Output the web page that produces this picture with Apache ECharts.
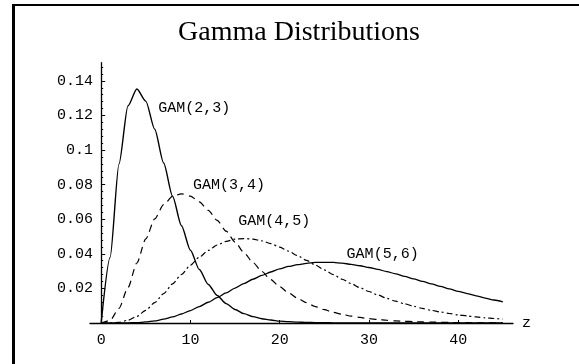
<!DOCTYPE html>
<html>
<head>
<meta charset="utf-8">
<script src="https://cdn.jsdelivr.net/npm/echarts@6/dist/echarts.min.js"></script>
<style>
  html, body { margin: 0; padding: 0; background: #fff; }
  #chart { width: 579px; height: 364px; }
</style>
</head>
<body>
<div id="chart"></div>
<script>
// z values shared by every density curve
const zValues = [0,1,2,3,4,5,6,7,8,9,10,11,12,13,14,15,16,17,18,19,20,21,22,23,24,25,26,27,28,29,30,31,32,33,34,35,36,37,38,39,40,41,42,43,44,45];

// density values for each distribution
const gam23 = [0,0.0379,0.0920,0.1255,0.1353,0.1283,0.1120,0.0925,0.0733,0.0562,0.0421,0.0309,0.0223,0.0159,0.0112,0.0078,0.0054,0.0037,0.0025,0.0017,0.0011,0.0008,0.0005,0.0003,0.0002,0.0002,0.0001,0.0001,0,0,0,0,0,0,0,0,0,0,0,0,0,0,0,0,0,0];
const gam34 = [0,0.0015,0.0085,0.0204,0.0347,0.0486,0.0602,0.0684,0.0732,0.0747,0.0734,0.0700,0.0651,0.0593,0.0531,0.0468,0.0407,0.0350,0.0298,0.0251,0.0210,0.0174,0.0143,0.0117,0.0095,0.0077,0.0062,0.0050,0.0040,0.0032,0.0025,0.0020,0.0016,0.0012,0.0010,0.0008,0.0006,0.0005,0.0004,0.0003,0.0002,0.0002,0.0001,0.0001,0.0001,0.0001];
const gam45 = [0,0,0.0004,0.0016,0.0038,0.0073,0.0118,0.0170,0.0226,0.0281,0.0334,0.0381,0.0420,0.0451,0.0472,0.0485,0.0488,0.0485,0.0475,0.0459,0.0439,0.0415,0.0390,0.0362,0.0335,0.0307,0.0280,0.0253,0.0228,0.0204,0.0182,0.0162,0.0143,0.0126,0.0111,0.0097,0.0084,0.0073,0.0064,0.0055,0.0047,0.0041,0.0035,0.0030,0.0026,0.0022];
const gam56 = [0,0,0,0.0001,0.0002,0.0006,0.0012,0.0022,0.0035,0.0052,0.0072,0.0095,0.0120,0.0147,0.0174,0.0202,0.0228,0.0253,0.0275,0.0295,0.0313,0.0327,0.0337,0.0345,0.0350,0.0351,0.0350,0.0346,0.0339,0.0331,0.0321,0.0310,0.0297,0.0284,0.0270,0.0255,0.0241,0.0226,0.0212,0.0197,0.0183,0.0170,0.0157,0.0144,0.0133,0.0122];

// curve names and where each name sits, in data units
const curveNames = ['GAM(2,3)', 'GAM(3,4)', 'GAM(4,5)', 'GAM(5,6)'];
const nameAnchors = [[6.4, 0.1245], [10.3, 0.0800], [15.35, 0.0592], [27.5, 0.0401]];

// axis tick values and labels
const xTicks = [0, 10, 20, 30, 40];
const yTicks = [0, 0.02, 0.04, 0.06, 0.08, 0.1, 0.12, 0.14];
const yMinorTicks = [0.004,0.008,0.012,0.016,0.024,0.028,0.032,0.036,0.044,0.048,0.052,0.056,0.064,0.068,0.072,0.076,0.084,0.088,0.092,0.096,0.104,0.108,0.112,0.116,0.124,0.128,0.132,0.136,0.144,0.148];

const MONO = '"Liberation Mono", "DejaVu Sans Mono", monospace';
const SERIF = '"Liberation Serif", "DejaVu Serif", serif';

const pairs = ys => zValues.map((z, i) => [z, ys[i]]);
const styles = [
  { type: 'solid', width: 1.4 },
  { type: [7, 5], width: 1.2 },
  { type: [6, 3, 2, 3], width: 1.2 },
  { type: 'solid', width: 1.3 }
];

const series = [gam23, gam34, gam45, gam56].map((ys, k) => ({
  name: curveNames[k],
  type: 'line',
  data: pairs(ys),
  showSymbol: false,
  smooth: 0.25,
  smoothMonotone: 'x',
  lineStyle: { color: '#000', width: styles[k].width, type: styles[k].type },
  markPoint: {
    symbol: 'circle',
    symbolSize: 0,
    data: [{ coord: nameAnchors[k] }],
    label: {
      show: true,
      position: 'inside',
      formatter: curveNames[k],
      align: 'left',
      verticalAlign: 'middle',
      color: '#000',
      fontFamily: MONO,
      fontSize: 15
    }
  }
}));

const chart = echarts.init(document.getElementById('chart'), null, { renderer: 'canvas' });
chart.setOption({
  animation: false,
  backgroundColor: '#fff',
  title: {
    text: 'Gamma Distributions',
    left: 294,
    top: 14,
    textAlign: 'center',
    textStyle: { fontFamily: SERIF, fontSize: 28, fontWeight: 'normal', color: '#000' }
  },
  grid: { left: 90, right: 66, top: 62.7, bottom: 41, containLabel: false },
  xAxis: {
    type: 'value',
    min: -1.25,
    max: 46.14,
    name: 'z',
    nameLocation: 'end',
    nameGap: 9,
    nameTextStyle: { fontFamily: MONO, fontSize: 15, color: '#000', verticalAlign: 'middle' },
    axisLine: { onZero: true, lineStyle: { color: '#000', width: 1.3 } },
    axisTick: { show: true, customValues: xTicks, inside: true, length: 3, lineStyle: { color: '#000' } },
    axisLabel: { customValues: xTicks, margin: 10, fontFamily: MONO, fontSize: 15, color: '#000' },
    splitLine: { show: false }
  },
  yAxis: [{
    type: 'value',
    min: 0,
    max: 0.1505,
    position: 'left',
    axisLine: { onZero: true, onZeroAxisIndex: 0, lineStyle: { color: '#000', width: 1.3 } },
    axisTick: { show: true, customValues: yTicks, inside: true, length: 4, lineStyle: { color: '#000' } },
    axisLabel: {
      customValues: yTicks.slice(1),
      margin: -3,
      fontFamily: MONO,
      fontSize: 15,
      color: '#000',
      formatter: v => String(v)
    },
    splitLine: { show: false }
  }, {
    type: 'value',
    min: 0,
    max: 0.1505,
    position: 'left',
    axisLine: { show: false, onZero: true, onZeroAxisIndex: 0 },
    axisTick: { show: true, customValues: yMinorTicks, inside: true, length: 2, lineStyle: { color: '#000' } },
    axisLabel: { show: false },
    splitLine: { show: false }
  }],
  graphic: [
    { type: 'line', shape: { x1: 13.5, y1: 4, x2: 13.5, y2: 364 }, style: { stroke: '#000', lineWidth: 3 }, silent: true },
    { type: 'line', shape: { x1: 12, y1: 5, x2: 579, y2: 5 }, style: { stroke: '#000', lineWidth: 2 }, silent: true }
  ],
  series: series
});
</script>
</body>
</html>
